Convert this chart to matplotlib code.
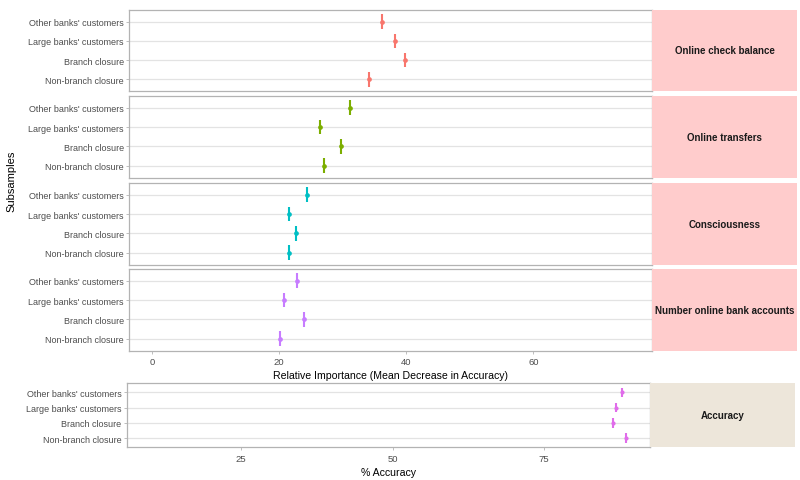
import matplotlib
matplotlib.use("Agg")
import matplotlib.pyplot as plt

plt.rcParams['font.family'] = ['Liberation Sans', 'DejaVu Sans']

subsamples = ["Non-branch closure", "Branch closure", "Large banks' customers", "Other banks' customers"]
facets = ["Online check balance", "Online transfers", "Consciousness", "Number online bank accounts"]
importance = {
    "Online check balance": [34.1, 39.8, 38.2, 36.1],
    "Online transfers": [27.1, 29.7, 26.4, 31.1],
    "Consciousness": [21.6, 22.7, 21.6, 24.4],
    "Number online bank accounts": [20.1, 23.9, 20.7, 22.8],
}
facet_colors = ["#F8766D", "#7CAE00", "#00BFC4", "#C77CFF"]
accuracy = [88.5, 86.4, 86.8, 87.8]
acc_color = "#E06CEA"
top_ticks = [0, 20, 40, 60]
bottom_ticks = [25, 50, 75]

W, H = 800, 481
fig = plt.figure(figsize=(W / 100, H / 100), dpi=100)

def px_axes(x0, y0, x1, y1):
    return fig.add_axes([x0 / W, 1 - y1 / H, (x1 - x0) / W, (y1 - y0) / H])

border = "#B3B3B3"
grid = "#E3E3E3"
tickc = "#4D4D4D"

def style(ax, show_x):
    for s in ax.spines.values():
        s.set_color(border)
        s.set_linewidth(0.9)
    ax.set_yticks(range(1, 5))
    ax.set_yticklabels(subsamples, fontsize=6.5, color=tickc)
    ax.tick_params(axis='y', length=2.5, width=0.6, color=border, pad=1.5)
    ax.tick_params(axis='x', length=2.5, width=0.6, color=border, pad=2, labelsize=6.8, labelcolor=tickc)
    ax.yaxis.grid(True, color=grid, linewidth=0.9)
    ax.xaxis.grid(False)
    ax.set_axisbelow(True)
    ax.set_ylim(0.4, 4.6)
    if not show_x:
        ax.tick_params(axis='x', length=0, labelbottom=False)

panel_y = [(11, 92), (97, 178.5), (184, 265.5), (270, 351.5)]
ys = list(range(1, 5))
for i, (f, (y0, y1)) in enumerate(zip(facets, panel_y)):
    ax = px_axes(129.3, y0, 652.3, y1)
    ax.set_xlim(-3.62, 78.74)
    ax.set_xticks(top_ticks)
    style(ax, i == 3)
    vals = importance[f]
    c = facet_colors[i]
    ax.vlines(vals, [y - 0.38 for y in ys], [y + 0.38 for y in ys], color=c, linewidth=1.5)
    ax.plot(vals, ys, 'o', color=c, ms=3.4, mew=0)
    if i == 3:
        ax.set_xlabel("Relative Importance (Mean Decrease in Accuracy)", fontsize=7.6, color="black", labelpad=3)
    # strip
    sax = px_axes(652.3, y0, 796.7, y1)
    sax.set_facecolor("#FFCCCC")
    for s in sax.spines.values():
        s.set_visible(False)
    sax.set_xticks([]); sax.set_yticks([])
    sax.text(0.5, 0.5, f, ha='center', va='center', fontsize=7, fontweight='bold', color="#1A1A1A", transform=sax.transAxes)

fig.text(11 / W, 1 - 181 / H, "Subsamples", rotation=90, ha='center', va='center', fontsize=8)

ax = px_axes(127, 384.3, 650.3, 448.3)
ax.set_xlim(6.2, 92.5)
ax.set_xticks(bottom_ticks)
style(ax, True)
ax.vlines(accuracy, [y - 0.31 for y in ys], [y + 0.31 for y in ys], color=acc_color, linewidth=1.5)
ax.plot(accuracy, ys, 'o', color=acc_color, ms=3, mew=0)
ax.set_xlabel("% Accuracy", fontsize=7.6, color="black", labelpad=3)
sax = px_axes(650.3, 384.3, 795, 448.3)
sax.set_facecolor("#EDE6DA")
for s in sax.spines.values():
    s.set_visible(False)
sax.set_xticks([]); sax.set_yticks([])
sax.text(0.5, 0.5, "Accuracy", ha='center', va='center', fontsize=7, fontweight='bold', color="#1A1A1A", transform=sax.transAxes)

fig.savefig("out.png", dpi=100)
